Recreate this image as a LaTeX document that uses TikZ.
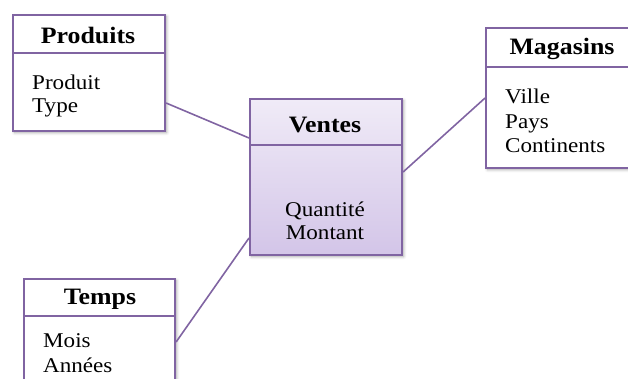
\documentclass[tikz,border=0pt]{standalone}
\usepackage{fontspec}
\setmainfont[FakeStretch=1.1]{Liberation Serif}
\usetikzlibrary{shadows.blur}
\definecolor{edge}{HTML}{8064A2}
\definecolor{factTop}{HTML}{F0EBF7}
\definecolor{factBot}{HTML}{D3C5E8}
\tikzset{
  tablebox/.style={draw=edge, line width=2.1pt, rectangle, inner sep=0pt,
    anchor=north west, fill=white,
    blur shadow={shadow xshift=1.5pt, shadow yshift=-1.5pt,
      shadow blur radius=3pt, shadow blur steps=6, shadow opacity=35}},
  facttable/.style={tablebox, fill=none, top color=factTop, bottom color=factBot},
  divider/.style={draw=edge, line width=1.6pt},
  link/.style={draw=edge, line width=1.6pt},
  title/.style={anchor=base, inner sep=0pt, font=\fontsize{23.5}{27}\selectfont\bfseries},
  field/.style={anchor=base west, inner sep=0pt, font=\fontsize{21}{25}\selectfont},
  factfield/.style={anchor=base, inner sep=0pt, font=\fontsize{21}{25}\selectfont}
}
\begin{document}
\begin{tikzpicture}[x=1pt, y=-1pt]
\useasboundingbox (0,0) rectangle (628,378);

% Produits dimension
\node[tablebox, minimum width=152pt, minimum height=116pt] (prod) at (12,14) {};
\draw[divider] ([yshift=-39pt]prod.north west) -- ([yshift=-39pt]prod.north east);
\node[title] (prodT) at (88,43) {Produits};
\node[field] (prodA) at (32,89) {Produit};
\node[field] (prodB) at (32,112) {Type};

% Ventes fact table
\node[facttable, minimum width=152pt, minimum height=156pt] (vent) at (249,98) {};
\draw[divider] ([yshift=-47pt]vent.north west) -- ([yshift=-47pt]vent.north east);
\node[title] (ventT) at (325,132) {Ventes};
\node[factfield] (ventA) at (325,216) {Quantité};
\node[factfield] (ventB) at (325,239) {Montant};

% Magasins dimension
\node[tablebox, minimum width=160pt, minimum height=140pt] (mag) at (485,27) {};
\draw[divider] ([yshift=-40pt]mag.north west) -- ([yshift=-40pt]mag.north east);
\node[title] (magT) at (562,54) {Magasins};
\node[field] (magA) at (505,103) {Ville};
\node[field] (magB) at (505,128) {Pays};
\node[field] (magC) at (505,152) {Continents};

% Temps dimension
\node[tablebox, minimum width=151pt, minimum height=120pt] (temps) at (23,278) {};
\draw[divider] ([yshift=-38pt]temps.north west) -- ([yshift=-38pt]temps.north east);
\node[title] (tempsT) at (100,304) {Temps};
\node[field] (tempsA) at (43,347) {Mois};
\node[field] (tempsB) at (43,372) {Années};

% Links between the fact table and its dimensions
\draw[link] ([yshift=-89pt]prod.north east) -- ([yshift=-40pt]vent.north west);
\draw[link] ([yshift=-74pt]vent.north east) -- (mag.west);
\draw[link] ([yshift=-64pt]temps.north east) -- ([yshift=-140pt]vent.north west);
\end{tikzpicture}
\end{document}
